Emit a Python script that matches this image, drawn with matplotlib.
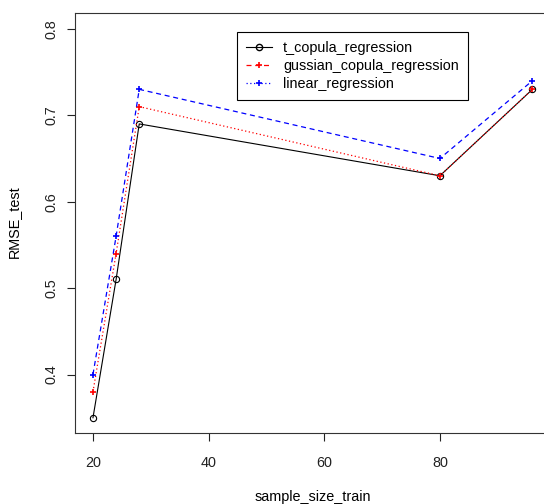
import matplotlib.pyplot as plt
from matplotlib.lines import Line2D

plt.rcParams['font.family'] = ['Liberation Sans', 'DejaVu Sans']

sample_size = [20, 24, 28, 80, 96]
t_copula = [0.35, 0.51, 0.69, 0.63, 0.73]
gaussian_copula = [0.38, 0.54, 0.71, 0.63, 0.73]
linear_reg = [0.40, 0.56, 0.73, 0.65, 0.74]

x_ticks = [20, 40, 60, 80]
y_ticks = [0.4, 0.5, 0.6, 0.7, 0.8]

fs = 10.4

fig = plt.figure(figsize=(5.44, 5.04), dpi=100)
ax = fig.add_axes([0.1386, 0.1403, 0.8724, 0.8333])

# plot order as in R: t first, then gaussian, then linear
ax.plot(sample_size, t_copula, color='black', lw=0.8, ls='-',
        marker='o', mfc='none', mec='black', ms=4.5, mew=0.8)
ax.plot(sample_size, gaussian_copula, color='red', lw=0.9, ls=(0, (1, 2)),
        marker='+', mec='red', ms=5, mew=1.2)
ax.plot(sample_size, linear_reg, color='blue', lw=0.9, ls=(0, (4, 3)),
        marker='+', mec='blue', ms=5, mew=1.2)

ax.set_xlim(16.96, 99.04)
ax.set_ylim(0.332, 0.818)
ax.set_xticks(x_ticks)
ax.set_yticks(y_ticks)
ax.set_xticklabels([str(v) for v in x_ticks], fontsize=fs)
ax.set_yticklabels([str(v) for v in y_ticks], fontsize=fs, rotation=90, va='center')
ax.tick_params(direction='out', length=6, width=0.8, colors='#222222')
ax.tick_params(axis='x', pad=10)
ax.tick_params(axis='y', pad=6)
for s in ax.spines.values():
    s.set_linewidth(0.8)
    s.set_color('#333333')

fig.text(313 / 544, 1 - 496.7 / 504, 'sample_size_train',
         ha='center', va='center', fontsize=fs)
fig.text(14 / 544, 1 - 222 / 504, 'RMSE_test', rotation=90,
         ha='center', va='center', fontsize=fs)

# legend in R swaps lty for the last two entries
handles = [
    Line2D([], [], color='black', lw=0.8, ls='-', marker='o', mfc='none', ms=4.5),
    Line2D([], [], color='red', lw=0.9, ls=(0, (4, 3)), marker='+', ms=5, mew=1.2),
    Line2D([], [], color='blue', lw=0.9, ls=(0, (1, 2)), marker='+', ms=5, mew=1.2),
]
labels = ['t_copula_regression', 'gussian_copula_regression', 'linear_regression']
leg = ax.legend(handles, labels, loc='upper left',
                bbox_to_anchor=(237 / 544, 1 - 32 / 504), bbox_transform=fig.transFigure,
                fontsize=fs, frameon=True, fancybox=False, framealpha=1,
                edgecolor='black', handlelength=1.8, handletextpad=0.8,
                labelspacing=0.3, borderpad=0.6, borderaxespad=0)
leg.get_frame().set_linewidth(0.8)

fig.savefig('out.png', dpi=100)
